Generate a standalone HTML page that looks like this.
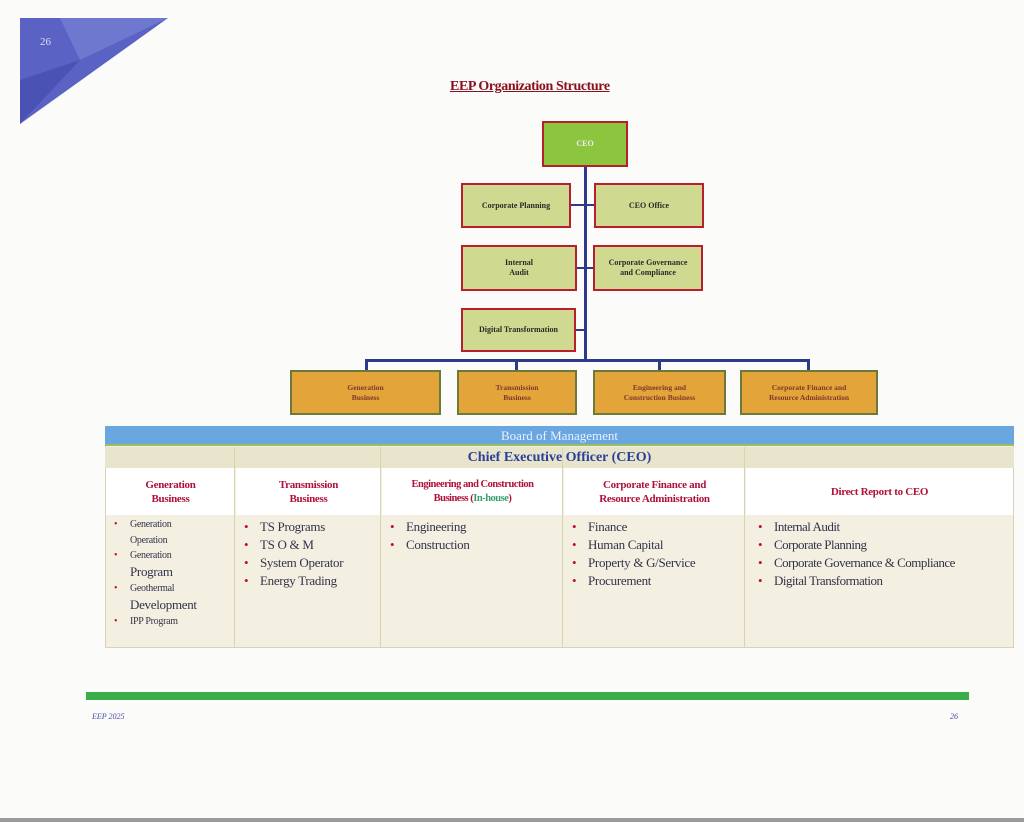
<!DOCTYPE html>
<html><head><meta charset="utf-8"><style>
*{margin:0;padding:0;box-sizing:border-box}
body{width:1024px;height:822px;background:#fbfbf9;position:relative;overflow:hidden;font-family:"Liberation Serif",serif}
.a{position:absolute}
.box{position:absolute;border:2px solid #b81f2e;background:#cfd98f;display:flex;align-items:center;justify-content:center;text-align:center;font-weight:bold;font-size:8px;line-height:10px;color:#2a2a2a}
.ob{position:absolute;border:2px solid #6b7a3a;background:#e3a43a;display:flex;align-items:center;justify-content:center;text-align:center;font-size:7.5px;line-height:10px;color:#7a3a2a;font-weight:bold}
.ln{position:absolute;background:#2d3a8c}
.col{position:absolute;border-right:1px solid #d8d3b0}
.hd{position:absolute;top:468px;height:47px;background:#fff;color:#b0103a;font-weight:bold;font-size:11px;line-height:14px;text-align:center;display:flex;align-items:center;justify-content:center;letter-spacing:-0.3px}
ul{list-style:none;position:absolute;top:518px;font-size:13px;line-height:18px;color:#33334a;letter-spacing:-0.3px}
li{position:relative;padding-left:22px}
li:before{content:"•";color:#c0102a;position:absolute;left:6px;top:0}
</style></head><body>
<svg class="a" style="left:0;top:0" width="200" height="140">
<polygon points="20,18 168,18 20,124" fill="#5a63c4"/>
<polygon points="60,18 168,18 80,60" fill="#6f78cf"/>
<polygon points="20,80 80,60 20,124" fill="#4a52b4"/>
<text x="40" y="45" font-size="11" fill="#dde" font-family="Liberation Serif">26</text>
</svg>
<div class="a" style="left:450px;top:79px;font-size:14px;font-weight:bold;color:#8a1020;text-decoration:underline;letter-spacing:-0.4px">EEP Organization Structure</div>

<div class="ln" style="left:584px;top:166px;width:3px;height:196px"></div>
<div class="ln" style="left:365px;top:359px;width:445px;height:3px"></div>
<div class="ln" style="left:365px;top:359px;width:3px;height:12px"></div>
<div class="ln" style="left:515px;top:359px;width:3px;height:12px"></div>
<div class="ln" style="left:658px;top:359px;width:3px;height:12px"></div>
<div class="ln" style="left:807px;top:359px;width:3px;height:12px"></div>
<div class="ln" style="left:570px;top:204px;width:24px;height:2px"></div>
<div class="ln" style="left:576px;top:267px;width:17px;height:2px"></div>
<div class="ln" style="left:575px;top:329px;width:10px;height:2px"></div>

<div class="box" style="left:542px;top:121px;width:86px;height:46px;background:#8cc63e;color:#eef">CEO</div>
<div class="box" style="left:461px;top:183px;width:110px;height:45px">Corporate Planning</div>
<div class="box" style="left:594px;top:183px;width:110px;height:45px">CEO Office</div>
<div class="box" style="left:461px;top:245px;width:116px;height:46px">Internal<br>Audit</div>
<div class="box" style="left:593px;top:245px;width:110px;height:46px">Corporate Governance<br>and Compliance</div>
<div class="box" style="left:461px;top:308px;width:115px;height:44px">Digital Transformation</div>

<div class="ob" style="left:290px;top:370px;width:151px;height:45px">Generation<br>Business</div>
<div class="ob" style="left:457px;top:370px;width:120px;height:45px">Transmission<br>Business</div>
<div class="ob" style="left:593px;top:370px;width:133px;height:45px">Engineering and<br>Construction Business</div>
<div class="ob" style="left:740px;top:370px;width:138px;height:45px">Corporate Finance and<br>Resource Administration</div>

<div class="a" style="left:105px;top:426px;width:909px;height:222px;background:#f3f0e2;border:1px solid #d8d3b0"></div>
<div class="a" style="left:105px;top:426px;width:909px;height:20px;background:#6aa6e0;border-bottom:2px solid #9bbf60;color:#e8f0ff;font-size:13px;text-align:center;line-height:19px">Board of Management</div>
<div class="a" style="left:105px;top:447px;width:909px;height:21px;background:#e9e4cc;color:#2a3f9a;font-size:14px;font-weight:bold;text-align:center;line-height:21px">Chief Executive Officer (CEO)</div>
<div class="hd" style="left:106px;width:129px"><div>Generation<br>Business</div></div>
<div class="hd" style="left:236px;width:145px"><div>Transmission<br>Business</div></div>
<div class="hd" style="left:382px;width:181px;font-size:10.5px;letter-spacing:-0.5px"><div>Engineering and Construction<br>Business (<span style="color:#3aa070">In-house</span>)</div></div>
<div class="hd" style="left:564px;width:181px"><div>Corporate Finance and<br>Resource Administration</div></div>
<div class="hd" style="left:746px;width:267px"><div>Direct Report to CEO</div></div>
<div class="col" style="left:105px;top:447px;width:130px;height:201px"></div>
<div class="col" style="left:235px;top:447px;width:146px;height:201px"></div>
<div class="col" style="left:381px;top:447px;width:182px;height:201px"></div>
<div class="col" style="left:563px;top:447px;width:182px;height:201px"></div>

<ul style="left:108px;top:517px;font-size:10px;line-height:15.5px">
<li>Generation<br>Operation</li><li>Generation<br><span style="font-size:13px">Program</span></li><li>Geothermal<br><span style="font-size:13px">Development</span></li><li>IPP Program</li></ul>
<ul style="left:238px"><li>TS Programs</li><li>TS O &amp; M</li><li>System Operator</li><li>Energy Trading</li></ul>
<ul style="left:384px"><li>Engineering</li><li>Construction</li></ul>
<ul style="left:566px"><li>Finance</li><li>Human Capital</li><li>Property &amp; G/Service</li><li>Procurement</li></ul>
<ul style="left:752px;letter-spacing:-0.5px"><li>Internal Audit</li><li>Corporate Planning</li><li>Corporate Governance &amp; Compliance</li><li>Digital Transformation</li></ul>

<div class="a" style="left:86px;top:692px;width:883px;height:8px;background:#3aae48"></div>
<div class="a" style="left:92px;top:712px;font-size:8px;font-style:italic;color:#4a4aa8">EEP 2025</div>
<div class="a" style="left:950px;top:712px;font-size:8px;font-style:italic;color:#4a4aa8">26</div>
<div class="a" style="left:0;top:818px;width:1024px;height:4px;background:#9a9a9a"></div>
</body></html>
